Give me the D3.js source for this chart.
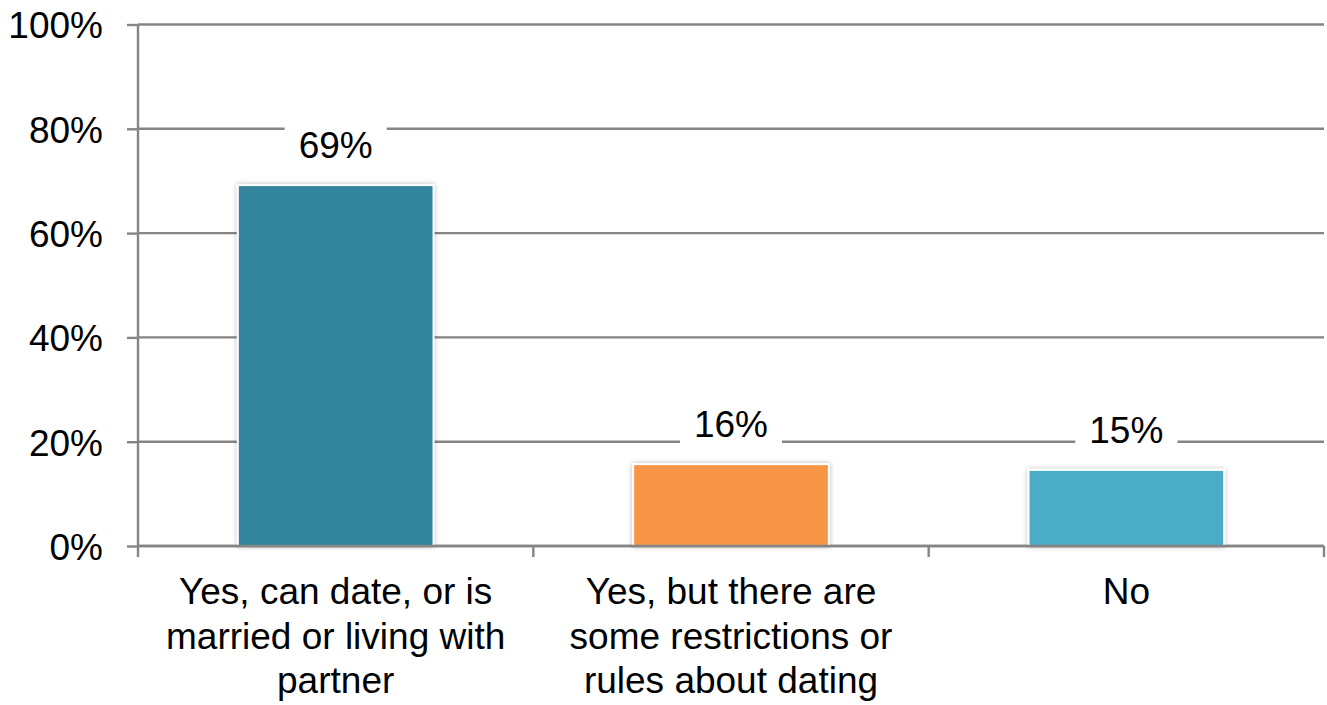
<!DOCTYPE html>
<html>
<head>
<meta charset="utf-8">
<script src="https://cdn.jsdelivr.net/npm/d3@7"></script>
<style>
  html, body { margin: 0; padding: 0; background: #fff; }
  svg { display: block; font-family: "Liberation Sans", Arial, sans-serif; }
</style>
</head>
<body>
<svg id="chart" width="1327" height="705"></svg>
<script>
// ---- data ----
const categories = [
  ["Yes, can date, or is", "married or living with", "partner"],
  ["Yes, but there are", "some restrictions or", "rules about dating"],
  ["No"]
];
const categoryKeys = ["Yes, can date, or is married or living with partner",
                      "Yes, but there are some restrictions or rules about dating",
                      "No"];
const values = [69.2, 15.7, 14.6];
const barColors = ["#31859C", "#F79646", "#4BACC6"];
const yTicks = [0, 20, 40, 60, 80, 100];

// ---- layout ----
const plotLeft = 138, plotRight = 1324, plotTop = 24.5, plotBottom = 546;
const gridColor = "#858585";
const fontSize = 37;

const svg = d3.select("#chart");

const defs = svg.append("defs");
const f = defs.append("filter").attr("id", "shadow")
  .attr("x", "-10%").attr("y", "-10%").attr("width", "120%").attr("height", "120%");
f.append("feDropShadow").attr("dx", 0).attr("dy", 0).attr("stdDeviation", 2.5)
  .attr("flood-color", "#000").attr("flood-opacity", 0.28);

const x = d3.scaleBand().domain(categoryKeys).range([plotLeft, plotRight])
  .paddingInner(0.505).paddingOuter(0.2525);
const y = d3.scaleLinear().domain([0, 100]).range([plotBottom, plotTop]);

// gridlines
svg.append("g").selectAll("line").data(yTicks).join("line")
  .attr("x1", plotLeft).attr("x2", plotRight)
  .attr("y1", d => y(d)).attr("y2", d => y(d))
  .attr("stroke", gridColor).attr("stroke-width", 2.4);

// y axis
const yAxis = svg.append("g").attr("transform", `translate(${plotLeft},0)`)
  .call(d3.axisLeft(y).tickValues(yTicks).tickFormat(d => d + "%")
    .tickSize(11).tickPadding(24));
yAxis.select(".domain").attr("stroke", gridColor).attr("stroke-width", 2.4)
  .attr("d", `M0,${y(100)}V${y(0)}`);
yAxis.selectAll(".tick line").attr("stroke", gridColor).attr("stroke-width", 2.4);
yAxis.selectAll(".tick text").attr("font-size", fontSize).attr("fill", "#000")
  .attr("font-family", "Liberation Sans, Arial, sans-serif").attr("dy", "0.36em");

// x axis boundary ticks
const step = x.step();
const boundaries = d3.range(categoryKeys.length + 1).map(i => plotLeft + i * step);
svg.append("g").selectAll("line").data(boundaries).join("line")
  .attr("x1", d => d).attr("x2", d => d)
  .attr("y1", plotBottom).attr("y2", plotBottom + 11)
  .attr("stroke", gridColor).attr("stroke-width", 2.4);

// bars
svg.append("g").selectAll("rect").data(values).join("rect")
  .attr("x", (d, i) => x(categoryKeys[i]))
  .attr("width", x.bandwidth())
  .attr("y", d => y(d))
  .attr("height", d => y(0) - y(d))
  .attr("fill", (d, i) => barColors[i])
  .attr("stroke", "#fff").attr("stroke-width", 2)
  .attr("filter", "url(#shadow)");

// x axis baseline (drawn over bars)
svg.append("line").attr("x1", plotLeft).attr("x2", plotRight)
  .attr("y1", y(0)).attr("y2", y(0))
  .attr("stroke", gridColor).attr("stroke-width", 2.4);

// value labels with white background
const lbl = svg.append("g").selectAll("g").data(values).join("g");
lbl.each(function(d, i) {
  const g = d3.select(this);
  const cx = x(categoryKeys[i]) + x.bandwidth() / 2;
  const base = y(d) - 27;
  const r = g.append("rect").attr("fill", "#fff");
  const t = g.append("text").attr("x", cx).attr("y", base)
    .attr("text-anchor", "middle").attr("font-size", fontSize).attr("fill", "#000")
    .text(Math.round(d) + "%");
  const bb = t.node().getBBox();
  r.attr("x", cx - bb.width / 2 - 14).attr("width", bb.width + 28)
    .attr("y", base - 34).attr("height", 44);
});

// category labels
const cl = svg.append("g").selectAll("text").data(categories).join("text")
  .attr("text-anchor", "middle").attr("font-size", fontSize).attr("fill", "#000")
  .attr("x", (d, i) => x(categoryKeys[i]) + x.bandwidth() / 2)
  .attr("y", plotBottom + 58);
cl.each(function(lines, i) {
  const cx = x(categoryKeys[i]) + x.bandwidth() / 2;
  d3.select(this).selectAll("tspan").data(lines).join("tspan")
    .attr("x", cx).attr("dy", (d, j) => j === 0 ? 0 : 44.5).text(d => d);
});
</script>
</body>
</html>
